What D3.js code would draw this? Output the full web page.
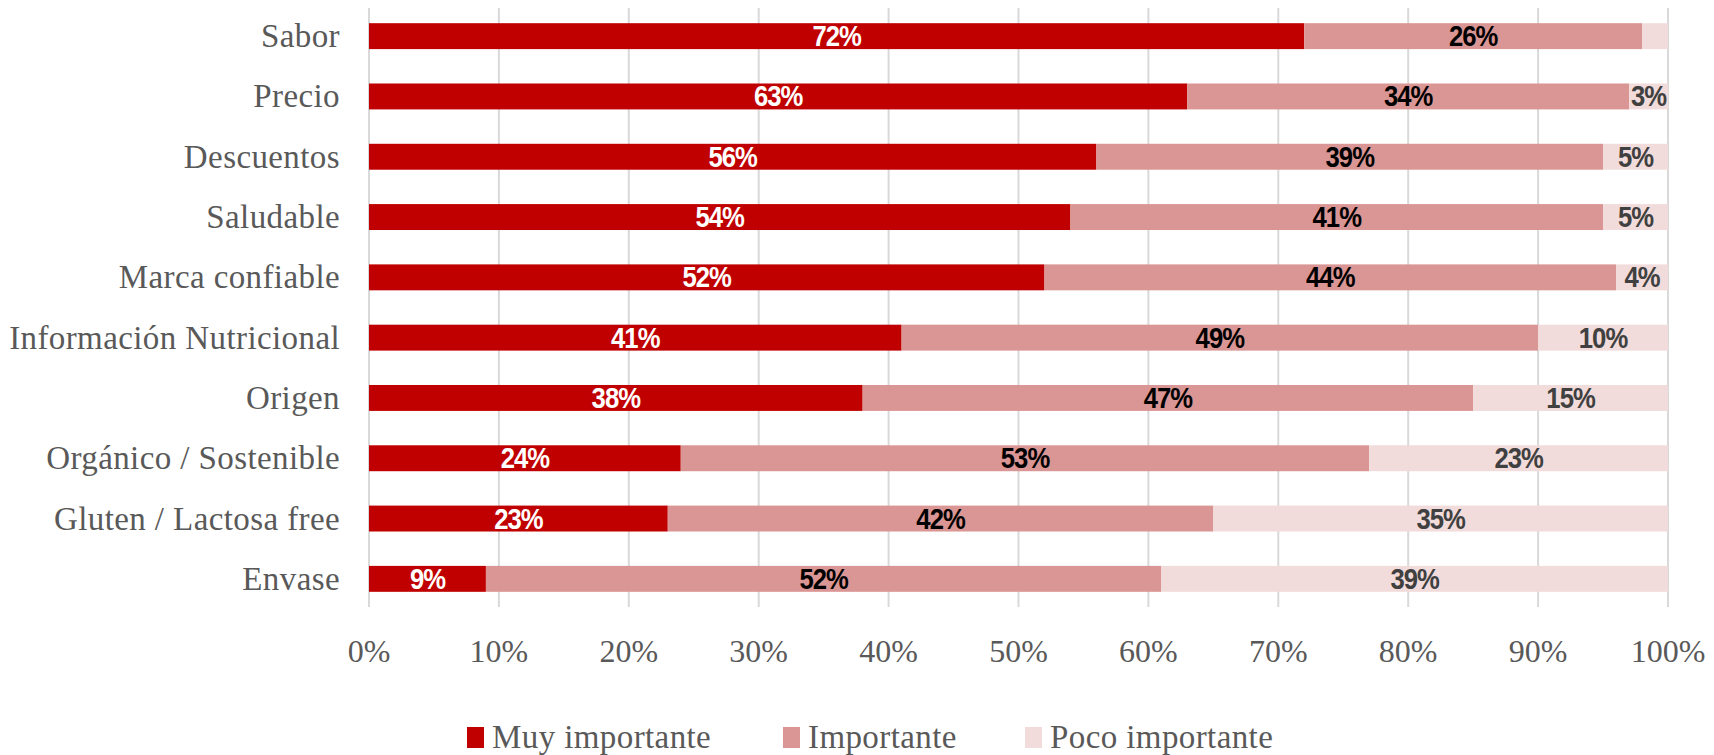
<!DOCTYPE html>
<html>
<head>
<meta charset="utf-8">
<script src="https://cdn.jsdelivr.net/npm/d3@7"></script>
<style>
  body { margin: 0; background: #fff; }
  svg { display: block; }
</style>
</head>
<body>
<script>
// chart data
var categories = ["Sabor", "Precio", "Descuentos", "Saludable", "Marca confiable",
  "Información Nutricional", "Origen", "Orgánico / Sostenible", "Gluten / Lactosa free", "Envase"];
var series = ["Muy importante", "Importante", "Poco importante"];
var muyImportante = [72, 63, 56, 54, 52, 41, 38, 24, 23, 9];
var importante = [26, 34, 39, 41, 44, 49, 47, 53, 42, 52];
var pocoImportante = [2, 3, 5, 5, 4, 10, 15, 23, 35, 39];
var ticks = [0, 10, 20, 30, 40, 50, 60, 70, 80, 90, 100];

var colors = ["#C00000", "#DA9694", "#F2DCDB"];
var labelColors = ["#ffffff", "#000000", "#404040"];

var w = 1714, h = 755;
var x0 = 369, x1 = 1668;

var svg = d3.select("body").append("svg")
    .attr("width", w)
    .attr("height", h);

var x = d3.scaleLinear().domain([0, 100]).range([x0, x1]);
var y = d3.scaleBand().domain(categories).range([6, 609])
    .paddingInner(0.57).paddingOuter(0.285);

// gridlines
svg.append("g").selectAll("line")
    .data(ticks)
    .enter().append("line")
    .attr("x1", function(d) { return x(d); })
    .attr("x2", function(d) { return x(d); })
    .attr("y1", 8)
    .attr("y2", 607)
    .style("stroke", "#d9d9d9")
    .style("stroke-width", 2);

// stack the values
var rows = categories.map(function(c, i) {
    return { cat: c, v: [muyImportante[i], importante[i], pocoImportante[i]] };
});
var segs = [];
rows.forEach(function(r) {
    var acc = 0;
    r.v.forEach(function(v, k) {
        segs.push({ cat: r.cat, k: k, v: v, a: acc, b: acc + v });
        acc += v;
    });
});

svg.append("g").selectAll("rect")
    .data(segs)
    .enter().append("rect")
    .attr("x", function(d) { return x(d.a); })
    .attr("width", function(d) { return x(d.b) - x(d.a); })
    .attr("y", function(d) { return y(d.cat); })
    .attr("height", y.bandwidth())
    .style("fill", function(d) { return colors[d.k]; });

// data labels (2% is too small, Excel hid it)
svg.append("g").selectAll("text")
    .data(segs.filter(function(d) { return d.v >= 3; }))
    .enter().append("text")
    .attr("transform", function(d) {
        return "translate(" + x((d.a + d.b) / 2) + "," + (y(d.cat) + y.bandwidth() / 2 + 10) + ")scale(0.95,1.1)";
    })
    .attr("text-anchor", "middle")
    .style("font-family", "'Liberation Sans', Arial, sans-serif")
    .style("font-weight", "bold")
    .style("font-size", "27px")
    .style("letter-spacing", "-1px")
    .style("fill", function(d) { return labelColors[d.k]; })
    .text(function(d) { return d.v + "%"; });

var serif = "'Liberation Serif', 'Times New Roman', serif";

// category labels
svg.append("g").selectAll("text")
    .data(categories)
    .enter().append("text")
    .attr("x", 340)
    .attr("y", function(d) { return y(d) + y.bandwidth() / 2 + 11; })
    .attr("text-anchor", "end")
    .style("font-family", serif)
    .style("font-size", "33px")
    .style("letter-spacing", "0.4px")
    .style("fill", "#595959")
    .text(function(d) { return d; });

// x tick labels
svg.append("g").selectAll("text")
    .data(ticks)
    .enter().append("text")
    .attr("x", function(d) { return x(d); })
    .attr("y", 662)
    .attr("text-anchor", "middle")
    .style("font-family", serif)
    .style("font-size", "32px")
    .style("fill", "#595959")
    .text(function(d) { return d + "%"; });

// legend
var legX = [467, 783, 1025];
var leg = svg.append("g").selectAll("g")
    .data(series)
    .enter().append("g")
    .attr("transform", function(d, i) { return "translate(" + legX[i] + ",0)"; });
leg.append("rect")
    .attr("y", 727)
    .attr("width", 17)
    .attr("height", 21)
    .style("fill", function(d, i) { return colors[i]; });
leg.append("text")
    .attr("x", 25)
    .attr("y", 748)
    .style("font-family", serif)
    .style("font-size", "33px")
    .style("letter-spacing", "0.4px")
    .style("fill", "#595959")
    .text(function(d) { return d; });
</script>
</body>
</html>
